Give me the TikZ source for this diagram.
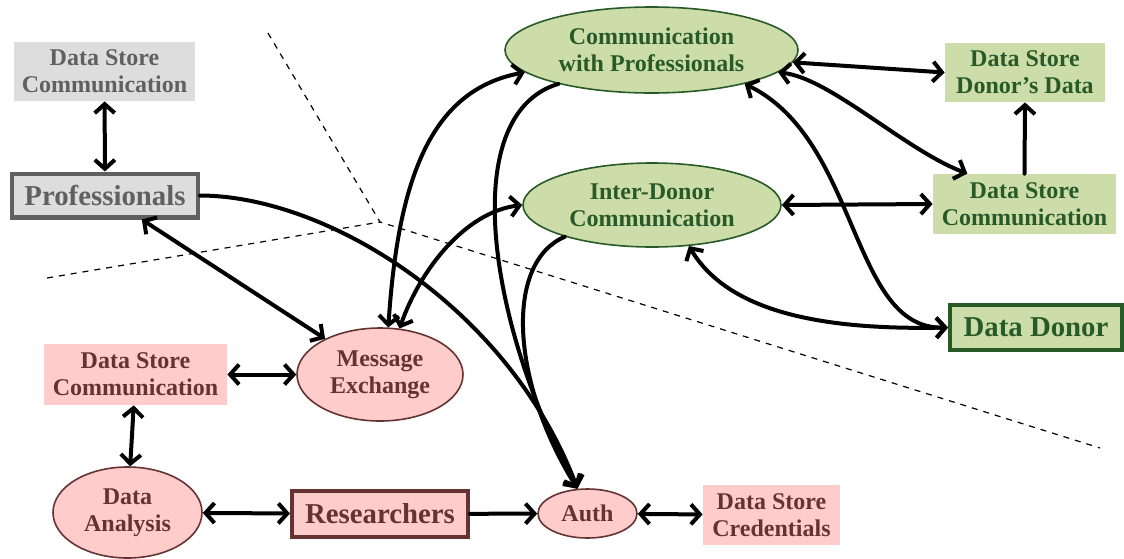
\documentclass[tikz,border=0pt]{standalone}
\usepackage{fontspec}
\setmainfont{Liberation Serif}
\usetikzlibrary{shapes.geometric,arrows.meta}

\definecolor{greyfill}{RGB}{221,221,221}
\definecolor{greytext}{RGB}{96,96,96}
\definecolor{greenfill}{RGB}{205,221,170}
\definecolor{greentext}{RGB}{40,90,40}
\definecolor{pinkfill}{RGB}{255,204,204}
\definecolor{pinktext}{RGB}{102,51,51}

\tikzset{
  greyset/.style={color=greytext,fill=greyfill},
  greenset/.style={color=greentext,fill=greenfill},
  pinkset/.style={color=pinktext,fill=pinkfill},
  store/.style={rectangle,inner sep=0pt,align=center,
    font=\fontsize{12}{13.5}\selectfont\bfseries},
  proc/.style={ellipse,draw,line width=0.8pt,inner sep=0pt,align=center,
    font=\fontsize{12}{13.5}\selectfont\bfseries},
  actor/.style={rectangle,draw,line width=2pt,inner sep=0pt,
    font=\fontsize{14.4}{16}\selectfont\bfseries},
  link/.style={line width=2pt,line cap=round},
  boundary/.style={dashed,line width=0.6pt}
}

\begin{document}
\begin{tikzpicture}[x=0.5pt,y=-0.5pt,>={Straight Barb[length=4.5pt,width=10pt]}]
  \useasboundingbox (0,0) rectangle (1124,558);
  % trust boundaries
  \coordinate (bmid) at (380,222);
  \coordinate (btop) at (268,33);
  \coordinate (bleft) at (47,278);
  \coordinate (bright) at (1100,448);
  \draw[boundary] (btop) -- (bmid) -- (bright);
  \draw[boundary] (bleft) -- (bmid);

  % professionals
  \node[store,greyset,minimum width=90.5pt,minimum height=29.5pt] (dsg) at (104.5,71.5) {Data Store\\Communication};
  \node[actor,greyset,line width=2.2pt,minimum width=92.8pt,minimum height=21.8pt] (prof) at (105,195.5) {Professionals};

  % donors
  \node[proc,greenset,minimum width=146.5pt,minimum height=43pt] (cwp) at (651.5,50) {Communication\\with Professionals};
  \node[proc,greenset,minimum width=129pt,minimum height=42pt] (idc) at (652,205) {Inter-Donor\\Communication};
  \node[store,greenset,minimum width=80pt,minimum height=29.5pt] (dsd) at (1025,72.5) {Data Store\\Donor’s Data};
  \node[store,greenset,minimum width=91.5pt,minimum height=30pt] (dsc) at (1024.5,204) {Data Store\\Communication};
  \node[actor,greenset,minimum width=86pt,minimum height=22.5pt] (donor) at (1036,327.5) {Data Donor};

  % researchers
  \node[store,pinkset,minimum width=91.5pt,minimum height=30.5pt] (dsp) at (135.5,374.5) {Data Store\\Communication};
  \node[proc,pinkset,minimum width=83pt,minimum height=46.5pt] (me) at (380,374.5) {Message\\Exchange};
  \node[proc,pinkset,minimum width=74.5pt,minimum height=45.5pt] (da) at (127.5,512.5) {Data\\Analysis};
  \node[actor,pinkset,minimum width=88pt,minimum height=23pt] (res) at (380,514) {Researchers};
  \node[proc,pinkset,minimum width=49.5pt,minimum height=24.5pt] (auth) at (587.5,513.5) {Auth};
  \node[store,pinkset,minimum width=68.5pt,minimum height=30pt] (dscr) at (771.5,515) {Data Store\\Credentials};

  \begin{scope}[link,<->]
    \draw (dsg) -- (prof);
    \draw (prof) -- (me);
    \draw (me.80) .. controls (398,180) and (430,90) .. (cwp.190);
    \draw (me.67) .. controls (420,270) and (465,212) .. (idc.west);
    \draw (cwp.355) -- (dsd.west);
    \draw (cwp.350) .. controls (830,78) and (905,150) .. (dsc.152);
    \draw (idc.east) -- (dsc.west);
    \draw (idc.312) .. controls (730,315) and (830,330) .. (donor.west);
    \draw (cwp.340) .. controls (860,140) and (850,330) .. (donor.west);
    \draw (dsp) -- (me);
    \draw (dsp) -- (da);
    \draw (da) -- (res);
    \draw (auth) -- (dscr);
  \end{scope}
  \begin{scope}[link,->]
    \draw (dsc.north) -- (dsd.south);
    \draw (res) -- (auth);
    \draw (prof.east) .. controls (330,196) and (510,310) .. (auth.112);
    \draw (cwp.200) .. controls (455,115) and (490,330) .. (auth.112);
    \draw (idc.200) .. controls (505,262) and (510,380) .. (auth.112);
  \end{scope}
\end{tikzpicture}
\end{document}
